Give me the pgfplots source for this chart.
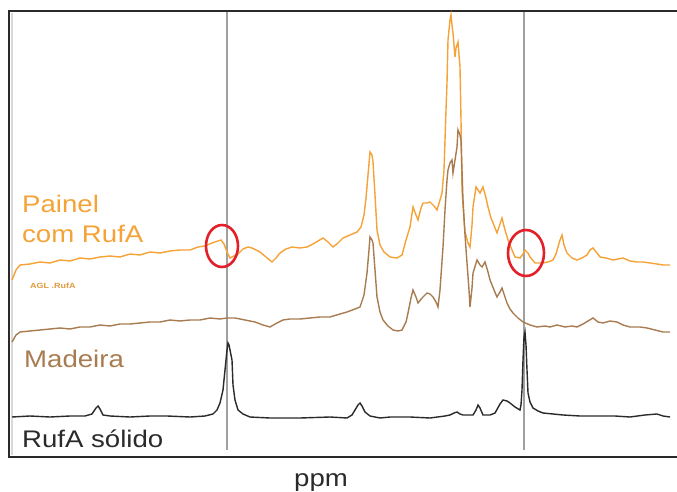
\documentclass[border=0pt]{standalone}
\usepackage{pgfplots}
\pgfplotsset{compat=1.18}
\usepackage{fontspec}
\setmainfont{Liberation Sans}

\definecolor{painel}{HTML}{F5A236}
\definecolor{madeira}{HTML}{A87C50}
\definecolor{solido}{HTML}{2A2A2A}
\definecolor{marca}{HTML}{E3202A}
\definecolor{guia}{HTML}{A0A0A0}

\newcommand{\rotulo}[1]{\fontsize{24}{28}\selectfont\scalebox{1.15}[1]{#1}}

\begin{document}
\begin{tikzpicture}
\begin{axis}[
    width=677pt, height=492pt, scale only axis,
    xmin=0, xmax=677, ymin=0, ymax=492,
    y dir=reverse,
    hide axis,
    clip=false,
]
% picture frame: top, left and bottom edges; they run off the page on the right
\draw[overlay, solido, line width=2.4pt] (axis cs:8,11) -- (axis cs:700,11);
\draw[overlay, solido, line width=2.4pt] (axis cs:8,457) -- (axis cs:700,457);
\draw[solido, line width=2.4pt] (axis cs:9,10) -- (axis cs:9,458);
\draw[black!15, line width=1.5pt] (axis cs:12,13) -- (axis cs:12,455);

% reference lines
\addplot[guia, line width=1.4pt] coordinates {(227,12) (227,450)};
\addplot[guia, line width=1.4pt] coordinates {(524,12) (524,450)};

% Painel com RufA
\addplot[painel, line width=1.4pt] coordinates {
(12,280)(16,270)(20,265)(30,264)(40,262)(50,263)(60,260)(70,261)(80,258)(90,259)
(100,257)(110,256)(120,257)(130,254)(140,255)(150,252)(160,253)(170,251)(180,250)(190,250)
(198,247)(205,246)(212,243)(218,241)(221,240)(224,244)(227,252)(230,258)(234,256)(238,254)
(243,249)(248,247)(252,248)(256,250)(260,252)(266,257)(272,262)(276,258)(280,253)(286,249)
(292,247)(300,248)(307,247)(313,244)(318,241)(323,238)(328,242)(333,247)(338,243)(343,238)
(350,235)(357,232)(361,227)(364,215)(366,198)(368,175)(370,152)(372,155)(373,162)(375,195)
(377,230)(380,245)(384,252)(390,257)(397,258)(402,255)(406,240)(410,227)(413,207)(416,215)
(418,220)(421,208)(423,203)(427,203)(430,202)(434,206)(437,210)(440,200)(442,193)(444,170)
(446,110)(447,83)(448,40)(450,20)(451,15)(452,25)(453,33)(455,57)(456,48)(458,42)
(459,55)(460,67)(461,120)(462,190)(464,220)(465,232)(468,243)(470,247)(472,225)(473,207)
(476,187)(478,190)(480,193)(483,187)(486,198)(488,207)(491,218)(493,223)(497,233)(500,224)
(502,218)(505,230)(508,240)(512,250)(515,257)(520,258)(523,254)(525,250)(528,253)(530,257)
(535,263)(543,263)(548,262)(553,260)(556,254)(558,247)(560,240)(562,235)(564,245)(567,253)
(572,258)(577,260)(582,258)(587,255)(590,250)(593,248)(597,253)(600,257)(606,258)(613,260)
(618,259)(623,258)(630,261)(637,262)(643,262)(650,263)(657,264)(663,265)(670,265)
};

% Madeira
\addplot[madeira, line width=1.4pt] coordinates {
(12,342)(16,335)(20,332)(30,331)(40,330)(50,329)(60,328)(70,329)(80,327)(90,327)
(100,325)(110,326)(120,324)(130,324)(140,323)(150,322)(160,322)(170,320)(180,321)(190,320)
(200,320)(210,318)(220,319)(227,318)(235,318)(245,320)(255,322)(263,325)(270,327)(277,323)
(283,320)(290,319)(300,319)(310,318)(320,317)(330,317)(340,314)(347,312)(355,309)(360,307)
(364,295)(367,273)(369,250)(370,237)(372,240)(373,243)(375,270)(377,297)(380,312)(383,320)
(388,326)(393,330)(398,331)(402,330)(406,322)(408,313)(411,298)(413,290)(416,297)(418,303)
(422,298)(427,293)(430,294)(433,297)(436,302)(438,307)(440,290)(443,247)(445,210)(447,180)
(448,170)(450,163)(452,160)(453,173)(455,160)(457,147)(458,130)(460,135)(461,140)(462,170)
(463,200)(465,235)(467,263)(469,290)(470,307)(472,288)(473,273)(477,260)(480,265)(482,267)
(485,262)(488,272)(490,280)(494,290)(497,297)(500,292)(502,288)(505,297)(507,303)(510,309)
(513,313)(518,318)(523,322)(530,325)(537,327)(545,326)(550,327)(557,325)(565,327)(572,326)
(577,327)(583,324)(588,321)(593,318)(598,322)(603,323)(610,321)(617,322)(623,325)(630,327)
(640,327)(647,328)(655,330)(663,332)(670,332)
};

% RufA solido
\addplot[solido, line width=1.4pt] coordinates {
(12,417)(30,416)(50,417)(70,416)(85,416)(92,414)(96,408)(98,406)(100,409)(103,415)
(110,416)(130,417)(150,416)(167,416)(190,417)(205,416)(213,414)(217,410)(220,403)(223,390)
(225,370)(227,350)(228,343)(229,345)(230,350)(232,360)(233,385)(235,400)(238,410)(243,414)
(250,417)(270,418)(300,418)(330,417)(347,418)(352,415)(355,410)(358,405)(360,403)(362,406)
(365,412)(370,416)(380,418)(390,417)(397,417)(410,417)(430,418)(445,416)(450,415)(454,413)
(457,412)(460,414)(463,415)(473,415)(476,410)(478,405)(480,408)(483,415)(490,415)(495,413)
(500,404)(503,400)(507,401)(510,403)(515,407)(520,410)(521,405)(522,390)(523,360)(524,337)
(525,332)(526,345)(527,370)(528,393)(530,402)(533,408)(538,411)(543,413)(553,414)(563,415)
(580,416)(597,416)(615,416)(630,417)(645,415)(657,414)(663,416)(670,417)
};

% highlighted signals
\draw[marca, line width=2.6pt] (axis cs:222,246) ellipse [x radius=16pt, y radius=21pt];
\draw[marca, line width=2.6pt] (axis cs:526,253) ellipse [x radius=18pt, y radius=23pt];

% labels
\node[anchor=base west, inner sep=0pt, text=painel] at (axis cs:22,212) {\rotulo{Painel}};
\node[anchor=base west, inner sep=0pt, text=painel] at (axis cs:22,242) {\rotulo{com RufA}};
\node[anchor=base west, inner sep=0pt, text=painel!75!madeira] at (axis cs:30,288) {\fontsize{7.5}{9}\selectfont\bfseries\scalebox{1.2}[1]{AGL .RufA}};
\node[anchor=base west, inner sep=0pt, text=madeira] at (axis cs:24,367) {\rotulo{Madeira}};
\node[anchor=base west, inner sep=0pt, text=solido] at (axis cs:22,447) {\rotulo{RufA sólido}};
\node[anchor=base, inner sep=0pt, text=solido] at (axis cs:321,486) {\rotulo{ppm}};

\path (axis cs:0,0) rectangle (axis cs:677,492);
\end{axis}
\end{tikzpicture}
\end{document}
